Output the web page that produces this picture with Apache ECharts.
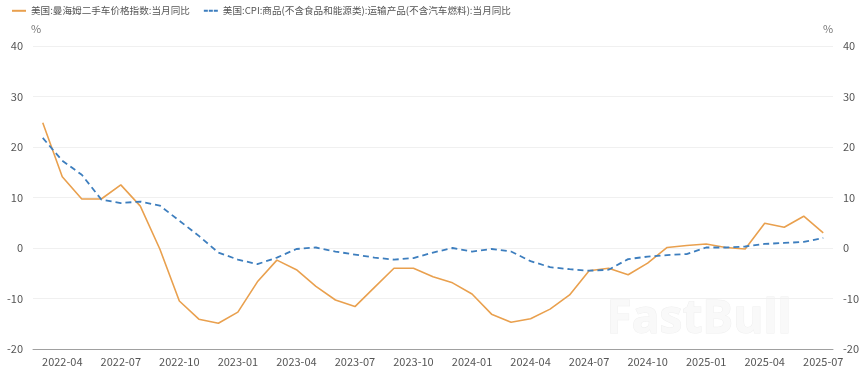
<!DOCTYPE html>
<html>
<head>
<meta charset="utf-8">
<script src="https://cdn.jsdelivr.net/npm/echarts@6/dist/echarts.min.js"></script>
<style>
html,body{margin:0;padding:0;background:#fff;}
#chart{width:865px;height:373px;}
</style>
</head>
<body>
<div id="chart"></div>
<script>
const months = [
  '2022-03','2022-04','2022-05','2022-06','2022-07','2022-08','2022-09','2022-10','2022-11','2022-12',
  '2023-01','2023-02','2023-03','2023-04','2023-05','2023-06','2023-07','2023-08','2023-09','2023-10','2023-11','2023-12',
  '2024-01','2024-02','2024-03','2024-04','2024-05','2024-06','2024-07','2024-08','2024-09','2024-10','2024-11','2024-12',
  '2025-01','2025-02','2025-03','2025-04','2025-05','2025-06','2025-07'
];
const manheimName = '美国:曼海姆二手车价格指数:当月同比';
const cpiName = '美国:CPI:商品(不含食品和能源类):运输产品(不含汽车燃料):当月同比';
const manheim = [
  24.8, 14.1, 9.7, 9.7, 12.5, 8.3, -0.2, -10.5, -14.1, -14.9,
  -12.7, -6.7, -2.4, -4.3, -7.6, -10.3, -11.6, -7.8, -4.0, -4.0, -5.7, -6.9,
  -9.1, -13.1, -14.7, -14.0, -12.1, -9.3, -4.5, -4.0, -5.3, -3.0, 0.1, 0.5,
  0.8, 0.1, -0.2, 4.9, 4.1, 6.3, 3.0
];
const cpiTransport = [
  21.8, 17.3, 14.5, 9.6, 8.9, 9.2, 8.4, 5.4, 2.4, -0.9,
  -2.3, -3.2, -1.9, -0.2, 0.1, -0.7, -1.3, -1.9, -2.3, -2.0, -0.9, 0.0,
  -0.7, -0.2, -0.7, -2.6, -3.8, -4.2, -4.5, -4.3, -2.2, -1.7, -1.4, -1.2,
  0.1, 0.1, 0.3, 0.8, 1.0, 1.2, 2.0
];
const yMin = -20, yMax = 40, yStep = 10;
const unitLabel = '%';

const chart = echarts.init(document.getElementById('chart'), null, {renderer: 'canvas'});
const font = '"Noto Sans CJK SC", "Noto Sans", sans-serif';
const labelColor = '#555';
const yAxisBase = {
  type: 'value', min: yMin, max: yMax, interval: yStep,
  name: unitLabel, nameGap: 12,
  axisLine: {show: false}, axisTick: {show: false},
  axisLabel: {color: labelColor, fontSize: 11, fontFamily: font, margin: 10},
  splitLine: {lineStyle: {color: '#f0f0f0', width: 1}}
};
chart.setOption({
  backgroundColor: '#fff',
  animation: false,
  textStyle: {fontFamily: font},
  legend: {
    left: 12, top: 6, padding: 0, itemWidth: 14, itemHeight: 2, itemGap: 14,
    textStyle: {color: '#555', fontSize: 9.6, fontFamily: font},
    data: [
      {name: manheimName, icon: 'rect'},
      {name: cpiName, icon: 'path://M0,0h4v2h-4z M5,0h4v2h-4z M10,0h4v2h-4z'}
    ]
  },
  grid: {left: 33, right: 32, top: 46, bottom: 24, containLabel: false},
  xAxis: {
    type: 'category', data: months, boundaryGap: true,
    axisLine: {onZero: false, lineStyle: {color: '#a0a0a0', width: 1}},
    axisTick: {show: false},
    axisLabel: {
      color: labelColor, fontSize: 11, fontFamily: font, margin: 7,
      interval: function (idx) { return idx % 3 === 1; }
    },
    splitLine: {show: false}
  },
  yAxis: [
    Object.assign({}, yAxisBase, {position: 'left',
      nameTextStyle: {color: '#777', fontSize: 11, fontFamily: font, padding: [0, 0, 0, 6]}}),
    Object.assign({}, yAxisBase, {position: 'right', splitLine: {show: false},
      nameTextStyle: {color: '#777', fontSize: 11, fontFamily: font, padding: [0, 10, 0, 0]}})
  ],
  graphic: [{
    type: 'text', left: 606, top: 296, z: 0, silent: true,
    style: {text: 'FastBull', font: 'bold 46px "Open Sans", sans-serif', fill: '#f9f9f9', stroke: '#efefef', lineWidth: 1}
  }],
  series: [
    {
      name: manheimName, type: 'line', data: manheim, yAxisIndex: 0,
      symbol: 'none', smooth: false, z: 3,
      itemStyle: {color: '#E9A04E'},
      lineStyle: {color: '#E9A04E', width: 1.6}
    },
    {
      name: cpiName, type: 'line', data: cpiTransport, yAxisIndex: 0,
      symbol: 'none', smooth: false, z: 4,
      itemStyle: {color: '#3D7EBE'},
      lineStyle: {color: '#3D7EBE', width: 1.8, type: [6, 4]}
    }
  ]
});
</script>
</body>
</html>
